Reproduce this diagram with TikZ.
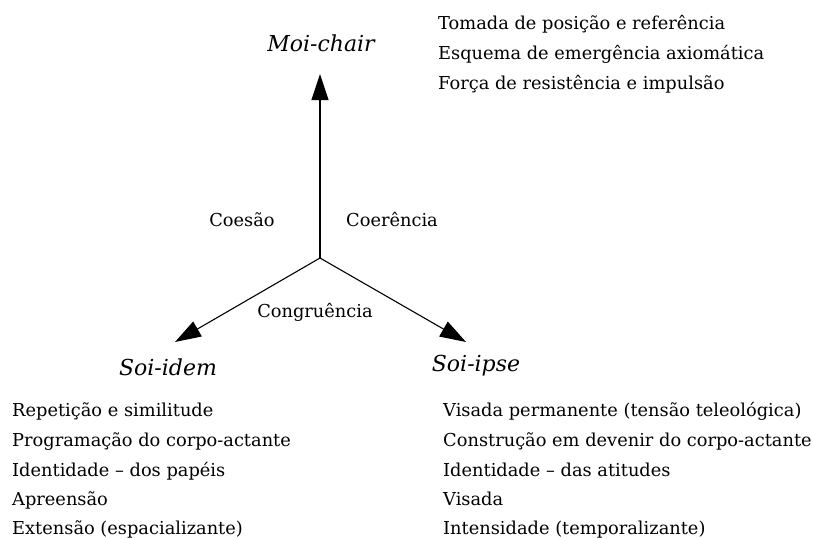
\documentclass[tikz,border=0pt]{standalone}
\usepackage{fontspec}
\setmainfont{DejaVu Serif}
\usetikzlibrary{arrows.meta,positioning}

\tikzset{
    item/.style={anchor=base west, inner sep=0pt, font=\fontsize{17.8}{20}\selectfont},
    pole/.style={inner sep=0pt, font=\fontsize{22}{26}\selectfont\itshape},
    relation/.style={inner sep=0pt, font=\fontsize{17.8}{20}\selectfont},
    axis/.style={line width=1.1pt, -{Triangle[length=26pt,width=17pt]}}
}

\begin{document}
\begin{tikzpicture}[x=1pt, y=-1pt]
    \useasboundingbox (0,0) rectangle (813,538);

    % the three axes
    \coordinate (center) at (320,258);
    \coordinate (chairTip) at (320,74);
    \coordinate (idemTip) at (175,342);
    \coordinate (ipseTip) at (466,342);
    \draw[axis] (center) -- (chairTip);
    \draw[axis] (center) -- (idemTip);
    \draw[axis] (center) -- (ipseTip);

    % poles
    \node[pole] (moiChair) at (321,43) {Moi-chair};
    \node[pole] (soiIdem) at (168,367) {Soi-idem};
    \node[pole] (soiIpse) at (476,366) {Soi-ipse};

    % relations between the poles
    \node[relation] (coesao) at (242,220) {Coesão};
    \node[relation] (coerencia) at (392,220) {Coerência};
    \node[relation] (congruencia) at (315,312) {Congruência};

    % Moi-chair
    \node[item] (chair1) at (438,29) {Tomada de posição e referência};
    \node[item] (chair2) at (438,59) {Esquema de emergência axiomática};
    \node[item] (chair3) at (438,89) {Força de resistência e impulsão};

    % Soi-idem
    \node[item] (idem1) at (12,416) {Repetição e similitude};
    \node[item] (idem2) at (12,446) {Programação do corpo-actante};
    \node[item] (idem3) at (12,476) {Identidade -- dos papéis};
    \node[item] (idem4) at (12,505) {Apreensão};
    \node[item] (idem5) at (12,534) {Extensão (espacializante)};

    % Soi-ipse
    \node[item] (ipse1) at (443,416) {Visada permanente (tensão teleológica)};
    \node[item] (ipse2) at (443,446) {Construção em devenir do corpo-actante};
    \node[item] (ipse3) at (443,476) {Identidade -- das atitudes};
    \node[item] (ipse4) at (443,505) {Visada};
    \node[item] (ipse5) at (443,534) {Intensidade (temporalizante)};
\end{tikzpicture}
\end{document}
